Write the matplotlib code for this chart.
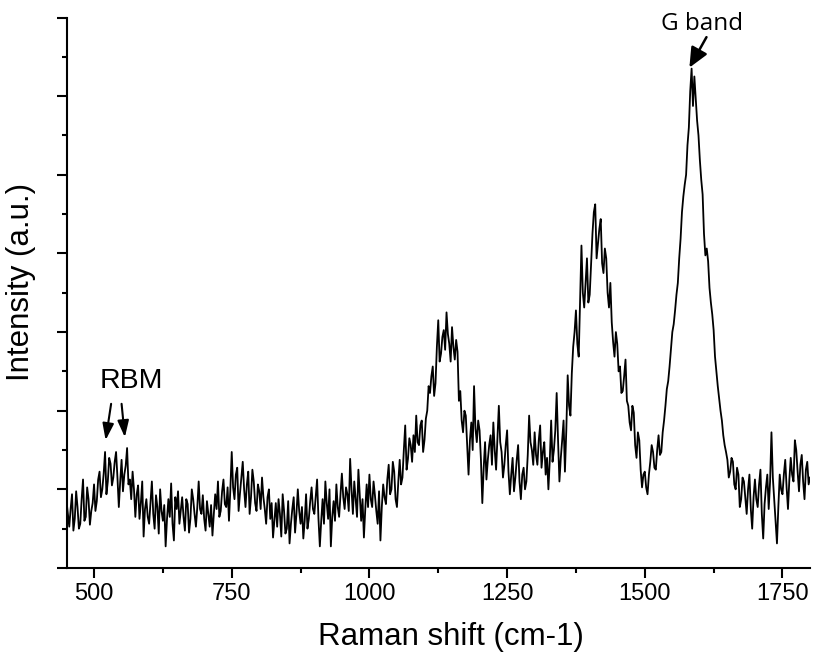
import numpy as np
import matplotlib
matplotlib.use("Agg")
import matplotlib.pyplot as plt
from matplotlib.ticker import MultipleLocator

# Raman spectrum, one value every 2.5 cm-1 from 450 to 1800
shift_start = 450
shift_step = 2.5
intensity = [
    68, 55, 42, 60, 75, 38, 50, 78, 62, 40, 45, 70, 90, 48, 52, 82, 70, 44, 58, 66,            # 450
    85, 58, 68, 90, 98, 72, 80, 96, 118, 75, 88, 112, 106, 84, 92, 108, 118, 92, 62, 88,       # 500
    110, 78, 95, 104, 122, 85, 90, 70, 98, 80, 52, 75, 84, 50, 66, 88, 32, 60, 70, 52,         # 550
    45, 66, 88, 55, 40, 74, 62, 35, 80, 58, 48, 64, 22, 50, 70, 52, 86, 45, 28, 72,            # 600
    60, 78, 45, 58, 72, 52, 38, 70, 65, 36, 50, 80, 70, 55, 42, 62, 88, 60, 55, 74,            # 650
    50, 38, 68, 55, 42, 64, 33, 55, 75, 60, 88, 52, 58, 78, 90, 65, 62, 82, 48, 80,            # 700
    118, 82, 70, 95, 102, 58, 76, 92, 108, 80, 62, 85, 98, 55, 72, 100, 88, 66, 58, 85,        # 750
    78, 60, 92, 72, 60, 45, 72, 80, 50, 66, 31, 48, 66, 42, 70, 55, 32, 75, 58, 35,            # 800
    40, 68, 25, 45, 60, 72, 36, 55, 80, 58, 45, 62, 30, 48, 75, 40, 50, 68, 82, 60,            # 850
    55, 72, 90, 50, 22, 48, 70, 45, 88, 66, 50, 80, 22, 52, 68, 48, 85, 62, 52, 75,            # 900
    96, 72, 60, 82, 75, 58, 111, 80, 55, 88, 70, 52, 100, 75, 48, 70, 31, 60, 85, 62,          # 950
    95, 70, 62, 88, 74, 58, 45, 78, 28, 62, 85, 72, 65, 90, 105, 75, 80, 108, 98, 70,          # 1000
    62, 88, 110, 85, 92, 120, 145, 100, 111, 132, 125, 108, 135, 118, 155, 128, 125, 145, 150, 118,  # 1050
    130, 152, 160, 185, 178, 195, 205, 175, 188, 225, 252, 210, 218, 235, 242, 222, 260, 238, 228, 210,  # 1100
    245, 225, 212, 232, 220, 170, 180, 150, 138, 160, 155, 125, 95, 130, 148, 120, 185, 142, 128, 150,  # 1150
    140, 110, 66, 102, 128, 90, 110, 125, 135, 105, 148, 120, 100, 132, 165, 128, 118, 92, 105, 125,   # 1200
    140, 98, 75, 95, 112, 78, 92, 110, 125, 88, 70, 95, 102, 80, 88, 115, 155, 128, 120, 105,          # 1250
    138, 115, 105, 130, 145, 102, 118, 128, 95, 112, 80, 110, 150, 108, 120, 140, 178, 130, 88, 112,   # 1300
    130, 150, 98, 140, 196, 165, 155, 198, 225, 240, 262, 228, 215, 272, 328, 280, 265, 290, 315, 270,  # 1350
    278, 310, 340, 362, 370, 315, 330, 345, 355, 310, 300, 325, 315, 280, 265, 290, 250, 230, 215, 240,  # 1400
    228, 200, 205, 178, 180, 195, 212, 170, 165, 148, 140, 165, 158, 125, 112, 138, 130, 100, 82, 95,    # 1450
    98, 82, 75, 95, 108, 125, 118, 102, 100, 120, 135, 115, 118, 138, 150, 165, 182, 190, 205, 222,      # 1500
    240, 248, 262, 278, 290, 315, 335, 362, 378, 390, 400, 430, 448, 485, 508, 470, 500, 478, 455, 440,  # 1550
    415, 395, 380, 340, 318, 325, 312, 285, 270, 258, 242, 215, 200, 185, 172, 160, 150, 135, 125, 118,  # 1600
    110, 92, 98, 112, 108, 85, 80, 102, 95, 62, 70, 92, 88, 72, 55, 80, 95, 60, 40, 72,                  # 1650
    90, 70, 62, 85, 100, 55, 30, 65, 82, 95, 60, 88, 138, 92, 70, 48, 25, 62, 95, 80,                    # 1700
    75, 95, 110, 82, 60, 90, 112, 95, 88, 130, 120, 98, 78, 105, 115, 88, 70, 100, 108, 85,              # 1750
    92,
]
raman_shift = shift_start + shift_step * np.arange(len(intensity))

x_ticks = [500, 750, 1000, 1250, 1500, 1750]

plt.rcParams["font.family"] = ["Liberation Sans", "DejaVu Sans"]

fig = plt.figure(figsize=(8.14, 6.53), dpi=100)
ax = fig.add_axes([0.0817, 0.1302, 0.9134, 0.843])

ax.plot(raman_shift, intensity, color="black", linewidth=1.3)

ax.set_xlim(450, 1800)
ax.set_ylim(0, 560)
ax.set_xticks(x_ticks)
ax.xaxis.set_minor_locator(MultipleLocator(125))
ax.yaxis.set_major_locator(MultipleLocator(80))
ax.yaxis.set_minor_locator(MultipleLocator(40))
ax.set_yticklabels([])

for side in ["top", "right"]:
    ax.spines[side].set_visible(False)
for side in ["left", "bottom"]:
    ax.spines[side].set_linewidth(1.5)

ax.tick_params(which="major", direction="out", length=7.5, width=1.5, labelsize=17)
ax.tick_params(which="minor", direction="out", length=3.8, width=1.5)

ax.set_xlabel("Raman shift (cm-1)", fontsize=22.5)
ax.set_ylabel("Intensity (a.u.)", fontsize=22.5)
# label anchors: top edge of the x label, right edge of the y label
ax.xaxis.set_label_coords(0.517, -0.098)
ax.yaxis.set_label_coords(-0.041, 0.52)

small_head = dict(arrowstyle="-|>,head_length=0.5,head_width=0.17", color="black",
                  lw=1.5, mutation_scale=20, shrinkA=0, shrinkB=0)
big_head = dict(arrowstyle="-|>,head_length=0.6,head_width=0.27", color="black",
                lw=1.8, mutation_scale=20, shrinkA=0, shrinkB=0)

ax.text(567, 190, "RBM", ha="center", va="center", fontsize=20.5)
ax.annotate("", xy=(521, 130), xytext=(531, 167), arrowprops=small_head)
ax.annotate("", xy=(556, 133), xytext=(550, 167), arrowprops=small_head)

ax.text(1604, 553, "G band", ha="center", va="center", fontsize=17.5,
        family=["Open Sans", "DejaVu Sans"], clip_on=False)
ax.annotate("", xy=(1581, 509), xytext=(1612, 540), arrowprops=big_head,
            annotation_clip=False)

fig.savefig("out.png", dpi=100)
